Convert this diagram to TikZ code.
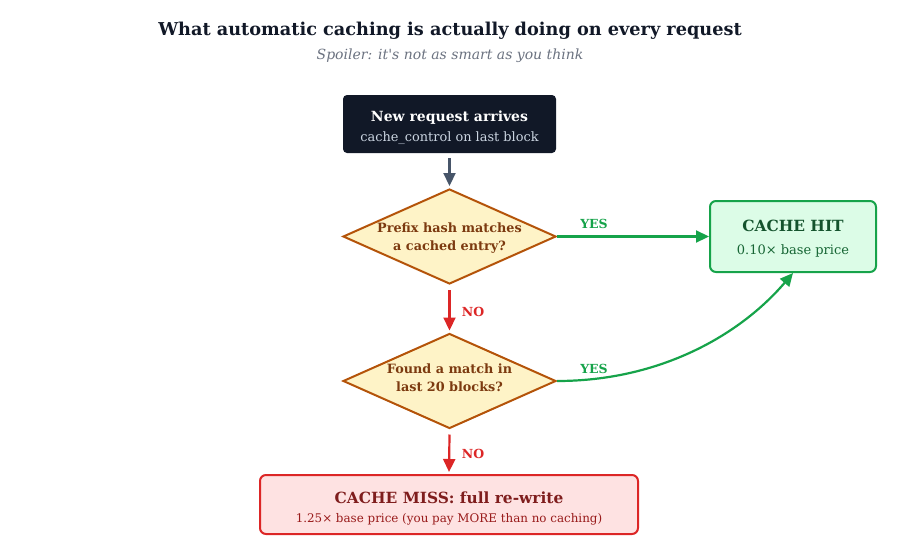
\documentclass[tikz,border=0pt]{standalone}
\usepackage{fontspec}
\setmainfont{DejaVu Serif}
\newfontfamily\plainserif{DejaVu Serif}[Ligatures=ResetAll]
\usetikzlibrary{shapes.geometric,arrows.meta}
\definecolor{navy}{HTML}{111827}
\definecolor{startsub}{HTML}{CBD5E1}
\definecolor{slate}{HTML}{475569}
\definecolor{subgray}{HTML}{6B7280}
\definecolor{dfill}{HTML}{FEF3C7}
\definecolor{dstroke}{HTML}{B45309}
\definecolor{dtextc}{HTML}{7C3A10}
\definecolor{okgreen}{HTML}{16A34A}
\definecolor{okfill}{HTML}{DCFCE7}
\definecolor{okdark}{HTML}{14532D}
\definecolor{okmid}{HTML}{166534}
\definecolor{badred}{HTML}{DC2626}
\definecolor{badfill}{HTML}{FEE2E2}
\definecolor{baddark}{HTML}{7F1D1D}
\definecolor{badmid}{HTML}{991B1B}
\begin{document}
\begin{tikzpicture}[x=1pt,y=-1pt,
  box/.style={draw, rounded corners=6pt, line width=2pt, inner sep=0pt},
  dia/.style={diamond, draw=dstroke, fill=dfill, line width=2pt, minimum width=213pt, minimum height=95pt, inner sep=0pt},
  dtext/.style={align=center, text=dtextc, font=\fontsize{12.8}{18}\selectfont\bfseries},
  arr/.style={line width=2.2pt, -{Triangle[length=13pt,width=12pt]}},
  lbl/.style={font=\fontsize{12.5}{14}\selectfont\bfseries},
]
\useasboundingbox (0,0) rectangle (900,544);
\node[text=navy, font=\fontsize{17.7}{20}\selectfont\bfseries] (title) at (450,30.5) {What automatic caching is actually doing on every request};
\node[text=subgray, font=\plainserif\fontsize{14}{16}\selectfont\itshape] (subtitle) at (450,55.5) {Spoiler: it's not as smart as you think};

% start
\node[fill=navy, rounded corners=4pt, minimum width=213pt, minimum height=58pt, inner sep=0pt] (start) at (449.5,124) {};
\node[text=white, font=\fontsize{14}{16}\selectfont\bfseries] (startt) at (449.5,117.5) {New request arrives};
\node[text=startsub, font=\fontsize{12.9}{15}\selectfont] (starts) at (449.5,138.5) {cache\_control on last block};

% decisions
\node[dia] (d1) at (449.5,236.5) {};
\node[dtext] (d1t) at (449.5,238.5) {Prefix hash matches\\a cached entry?};
\node[dia] (d2) at (449.5,381) {};
\node[dtext] (d2t) at (449.5,378) {Found a match in\\last 20 blocks?};

% hit
\node[box, draw=okgreen, fill=okfill, minimum width=166pt, minimum height=71pt] (hit) at (793,236.5) {};
\node[text=okdark, font=\fontsize{15.4}{18}\selectfont\bfseries] (hitt) at (793,225.5) {CACHE HIT};
\node[text=okmid, font=\fontsize{13}{15}\selectfont] (hits) at (793,250.5) {0.10× base price};

% miss
\node[box, draw=badred, fill=badfill, minimum width=378pt, minimum height=59pt] (miss) at (449,504.5) {};
\node[text=baddark, font=\fontsize{15.4}{18}\selectfont\bfseries] (misst) at (449,497.5) {CACHE MISS: full re-write};
\node[text=badmid, font=\fontsize{11.9}{14}\selectfont] (misss) at (449,519.5) {1.25× base price (you pay MORE than no caching)};

% connectors
\draw[arr, draw=slate, fill=slate, shorten >=2pt] ([yshift=-5pt]start.south) -- (d1.north);
\draw[arr, draw=okgreen, fill=okgreen] (d1.east) -- (hit.west);
\node[lbl, text=okgreen] (yes1) at (594,223.5) {YES};
\draw[arr, draw=badred, fill=badred, shorten >=2pt] ([yshift=-5pt]d1.south) -- (d2.north);
\node[lbl, text=badred] (no1) at (473,311.5) {NO};
\draw[arr, draw=okgreen] (d2.east) .. controls (660,381) and (740,335) .. (hit.south);
\node[lbl, text=okgreen] (yes2) at (594,368.5) {YES};
\draw[arr, draw=badred, fill=badred, shorten >=2pt] ([yshift=-5pt]d2.south) -- (miss.north);
\node[lbl, text=badred] (no2) at (473,453.5) {NO};
\end{tikzpicture}
\end{document}
